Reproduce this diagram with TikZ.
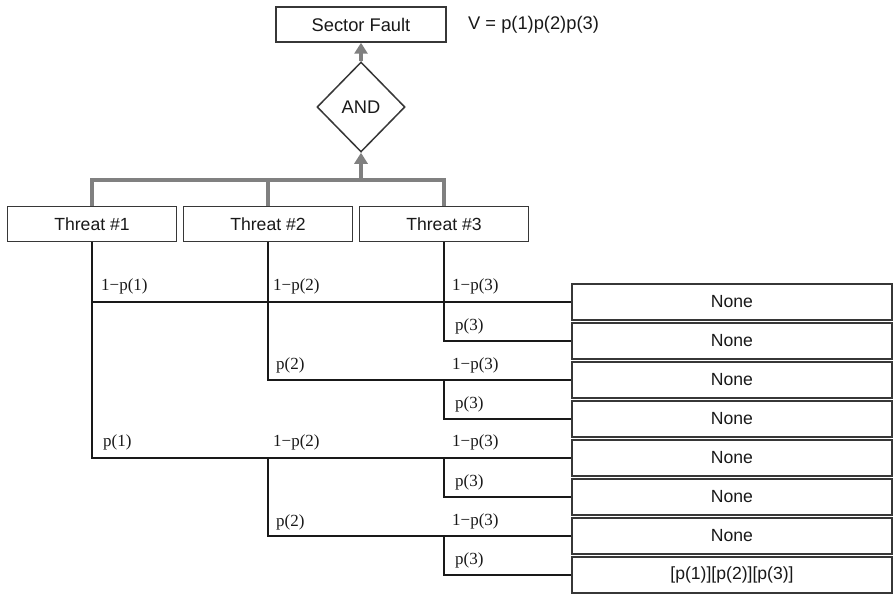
\documentclass[tikz,border=0pt]{standalone}
\usepackage{fontspec}
\setmainfont{Liberation Serif}
\setsansfont{Liberation Sans}
\usetikzlibrary{shapes.geometric,arrows.meta}
\definecolor{busgray}{RGB}{128,128,128}
\definecolor{edge}{RGB}{55,55,55}
\definecolor{ink}{RGB}{25,25,25}
\tikzset{
  box/.style={draw=edge,line width=1.5pt,fill=white,text=ink,inner sep=0pt,
    font=\sffamily\fontsize{17.6}{20}\selectfont},
  bigtext/.style={font=\sffamily\fontsize{18.3}{21}\selectfont},
  threatbox/.style={box,minimum width=169pt,minimum height=35pt},
  outbox/.style={box,minimum width=320pt,minimum height=36pt},
  gate/.style={box,bigtext,diamond,minimum width=88pt,minimum height=90pt},
  bus/.style={draw=busgray,line width=3.6pt},
  busarrow/.style={bus,-{Triangle[width=13pt,length=11pt]}},
  branch/.style={draw=ink,line width=1.2pt},
  prob/.style={anchor=west,inner sep=0pt,text=ink,font=\rmfamily\fontsize{17}{20}\selectfont},
  note/.style={anchor=west,inner sep=0pt,text=ink,bigtext}
}
\begin{document}
\begin{tikzpicture}[x=1pt,y=-1pt]
\useasboundingbox[fill=white] (0,0) rectangle (894,594);

% top event and gate
\node[box,bigtext,minimum width=170pt,minimum height=35pt] (sf) at (361,24.5) {Sector Fault};
\node[note] (v) at (468,25) {V = p(1)p(2)p(3)};
\node[gate] (and) at (361,107) {AND};

% threats
\node[threatbox] (t1) at (92,224) {Threat \#1};
\node[threatbox] (t2) at (268,224) {Threat \#2};
\node[threatbox] (t3) at (444,224) {Threat \#3};

% outcomes
\foreach \i/\txt in {1/None,2/None,3/None,4/None,5/None,6/None,7/None,8/{[p(1)][p(2)][p(3)]}}
  \node[outbox] (o\i) at (732,{302+39*(\i-1)}) {\txt};

% gray bus into the AND gate
\coordinate (busy) at (0,180);
\draw[bus] (t1.north) -- (t1.north |- busy) -| (t3.north);
\draw[bus] (t2.north) -- (t2.north |- busy);
\draw[busarrow] (and.south |- busy) -- (and.south);
\draw[busarrow] (and.north) -- (sf.south);

% event tree branches
\draw[branch] (t1.south) -- (t1.south |- o5.west) -- (o5.west);
\draw[branch] (t1.south |- o1.west) -- (o1.west);
\draw[branch] (t2.south) -- (t2.south |- o3.west) -- (o3.west);
\draw[branch] (t2.south |- o5.west) -- (t2.south |- o7.west) -- (o7.west);
\draw[branch] (t3.south) -- (t3.south |- o2.west) -- (o2.west);
\draw[branch] (t3.south |- o3.west) -- (t3.south |- o4.west) -- (o4.west);
\draw[branch] (t3.south |- o5.west) -- (t3.south |- o6.west) -- (o6.west);
\draw[branch] (t3.south |- o7.west) -- (t3.south |- o8.west) -- (o8.west);

% branch probabilities
\node[prob] (a1) at (101,286) {1−p(1)};
\node[prob] (a2) at (103,442) {p(1)};
\node[prob] (b1) at (273,286) {1−p(2)};
\node[prob] (b2) at (276,365) {p(2)};
\node[prob] (b3) at (273,442) {1−p(2)};
\node[prob] (b4) at (276,522) {p(2)};
\node[prob] (c1) at (452,286) {1−p(3)};
\node[prob] (c2) at (455,326) {p(3)};
\node[prob] (c3) at (452,365) {1−p(3)};
\node[prob] (c4) at (455,404) {p(3)};
\node[prob] (c5) at (452,442) {1−p(3)};
\node[prob] (c6) at (455,482) {p(3)};
\node[prob] (c7) at (452,521) {1−p(3)};
\node[prob] (c8) at (455,560) {p(3)};
\end{tikzpicture}
\end{document}
